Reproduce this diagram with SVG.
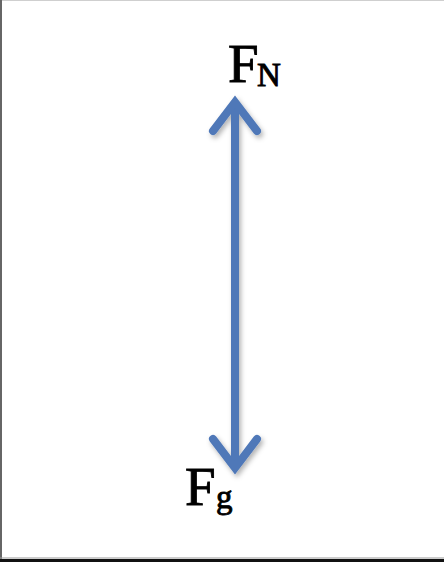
<svg xmlns="http://www.w3.org/2000/svg" width="444" height="562" viewBox="0 0 444 562">
  <style>
    .lbl { font-family: "Liberation Serif", "Times New Roman", serif; fill: #000; stroke: #000; stroke-width: 0.9; }
    .big { font-size: 55px; }
    .sub { font-size: 33px; }
    .arrow { fill: none; stroke: #4F78B8; stroke-width: 8; stroke-linecap: round; stroke-linejoin: miter; }
  </style>
  <defs>
    <filter id="shadow" x="-50%" y="-10%" width="200%" height="120%">
      <feDropShadow dx="2" dy="3" stdDeviation="2.5" flood-color="#000" flood-opacity="0.3"/>
    </filter>
  </defs>
  <rect x="0" y="0" width="444" height="562" fill="#fff"/>
  <g id="frame">
    <rect x="0" y="0" width="444" height="1" fill="#cfcfcf"/>
    <rect x="0" y="0" width="2" height="562" fill="#666"/>
    <rect x="0" y="557.5" width="444" height="1" fill="#999"/>
    <rect x="0" y="559" width="444" height="3" fill="#111"/>
  </g>
  <g id="connectors" filter="url(#shadow)">
    <line class="arrow" x1="235" y1="104" x2="235" y2="466"/>
    <polyline class="arrow" points="213,131 235,102 257,131"/>
    <polyline class="arrow" points="213,439 235,468 257,439"/>
  </g>
  <g id="node-FN">
    <text class="lbl big" x="228" y="82">F</text>
    <text class="lbl sub" x="257" y="86">N</text>
  </g>
  <g id="node-Fg">
    <text class="lbl big" x="185" y="505">F</text>
    <text class="lbl sub" x="216" y="508">g</text>
  </g>
</svg>
